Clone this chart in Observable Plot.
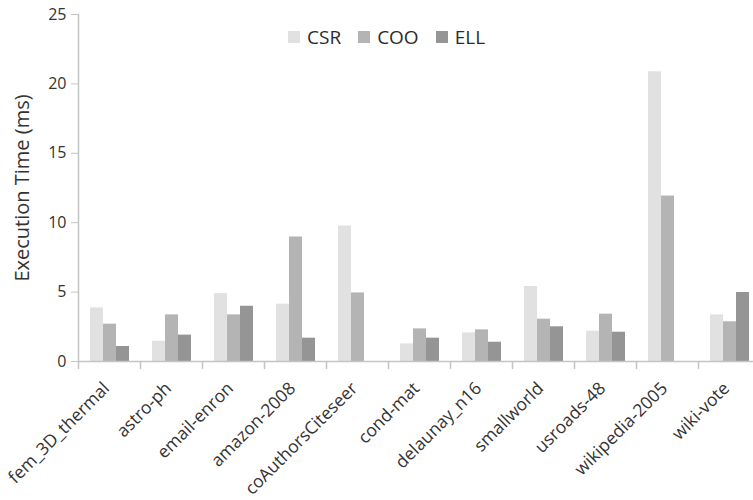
<!DOCTYPE html>
<html>
<head>
<meta charset="utf-8">
<script src="https://cdn.jsdelivr.net/npm/d3@7"></script>
<script src="https://cdn.jsdelivr.net/npm/@observablehq/plot@0.6"></script>
<style>
  html, body { margin: 0; padding: 0; background: #fff; overflow: hidden; }
  #wrap { position: relative; width: 753px; height: 500px; font-family: "Open Sans", sans-serif; }
  #legend { position: absolute; top: 24px; left: 288px; display: flex; align-items: center; font-size: 19px; color: #2b2b2b; }
  #legend .item { display: flex; align-items: center; margin-right: 17px; }
  #legend .sw { width: 12px; height: 12px; margin-right: 7px; }
  svg { overflow: visible; }
</style>
</head>
<body>
<div id="wrap">
  <div id="chart"></div>
  <div id="legend"></div>
</div>
<script>
// Sparse matrix formats, execution time per dataset (ms)
const datasets = [
  "fem_3D_thermal", "astro-ph", "email-enron", "amazon-2008", "coAuthorsCiteseer",
  "cond-mat", "delaunay_n16", "smallworld", "usroads-48", "wikipedia-2005", "wiki-vote"
];
const formats = ["CSR", "COO", "ELL"];
const csr = [3.86, 1.46, 4.89, 4.13, 9.76, 1.27, 2.06, 5.40, 2.18, 20.87, 3.36];
const coo = [2.69, 3.36, 3.36, 8.97, 4.94, 2.35, 2.28, 3.05, 3.41, 11.92, 2.86];
const ell = [1.08, 1.90, 3.98, 1.68, null, 1.68, 1.39, 2.50, 2.11, null, 4.97];
const yTicks = [0, 5, 10, 15, 20, 25];
const shades = ["#e1e1e1", "#b4b4b4", "#959595"];

const seriesValues = [csr, coo, ell];
const rows = [];
datasets.forEach((d, i) => {
  formats.forEach((f, j) => {
    const v = seriesValues[j][i];
    if (v != null) rows.push({dataset: d, format: f, time: v});
  });
});

const axisGray = "#c4c4c4";
const textColor = "#333";

// short downward tick at the left boundary of each dataset group
const downTick = {
  draw(context, l) { context.moveTo(0, 0); context.lineTo(0, -l); }
};

const chart = Plot.plot({
  width: 753,
  height: 500,
  marginLeft: 77,
  marginRight: -7,
  marginTop: 14,
  marginBottom: 139,
  style: {fontFamily: "Open Sans, sans-serif", color: textColor, background: "white"},
  fx: {domain: datasets, padding: 0, label: null},
  x: {domain: formats, paddingInner: 0, paddingOuter: 0.768, axis: null},
  y: {domain: [0, 25], label: null},
  color: {domain: formats, range: shades},
  marks: [
    Plot.barY(rows, {fx: "dataset", x: "format", y: "time", fill: "format", inset: 0}),
    Plot.ruleY([0], {stroke: axisGray, strokeWidth: 1.5}),
    Plot.vector([0], {
      frameAnchor: "bottom-left", length: 7, rotate: 180, anchor: "start",
      shape: downTick, stroke: axisGray, strokeWidth: 1.5
    }),
    Plot.frame({anchor: "left", facetAnchor: "left", stroke: axisGray, strokeWidth: 1.5}),
    Plot.axisY({
      anchor: "left", ticks: yTicks, tickSize: 7, tickPadding: 5, stroke: axisGray,
      fontSize: 16, fill: textColor,
      label: "Execution Time (ms)", labelAnchor: "center", labelArrow: "none", labelOffset: 64
    }),
    Plot.axisFx({
      anchor: "bottom", tickRotate: -45, tickSize: 0, tickPadding: 10,
      fontSize: 17.5, fill: textColor, label: null, dx: -3, dy: 14
    })
  ]
});
chart.querySelectorAll("g[aria-label='y-axis label']").forEach(t => t.setAttribute("font-size", 20));
document.getElementById("chart").appendChild(chart);

const legend = document.getElementById("legend");
formats.forEach((f, i) => {
  const item = document.createElement("div");
  item.className = "item";
  const sw = document.createElement("div");
  sw.className = "sw";
  sw.style.background = shades[i];
  const label = document.createElement("span");
  label.textContent = f;
  item.appendChild(sw);
  item.appendChild(label);
  legend.appendChild(item);
});
</script>
</body>
</html>
